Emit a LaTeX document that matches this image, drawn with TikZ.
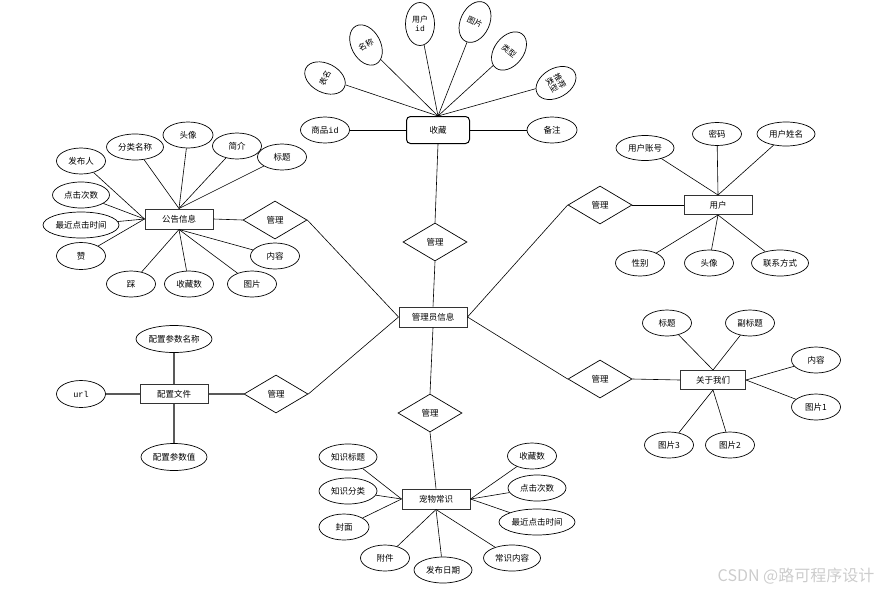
\documentclass[tikz,border=0pt]{standalone}
\usepackage{fontspec}
\setmainfont{Noto Sans CJK SC}
\newfontfamily\monofont{Liberation Mono}
\usetikzlibrary{shapes}
\tikzset{
  attr/.style={draw,ellipse,line width=0.7pt,inner sep=0pt,minimum width=49pt,minimum height=26pt,font=\fontsize{8.5}{9.5}\selectfont},
  tall/.style={attr,minimum width=29pt,minimum height=43pt,align=center,font=\fontsize{8}{9}\selectfont},
  ent/.style={draw=black!80,rectangle,line width=1pt,inner sep=0pt,minimum width=68pt,minimum height=20pt,font=\fontsize{8.5}{9.5}\selectfont},
  rel/.style={draw,diamond,line width=0.7pt,inner sep=0pt,minimum width=64pt,minimum height=38pt,font=\fontsize{8.5}{9.5}\selectfont},
  link/.style={line width=0.6pt},
  thick link/.style={line width=1.3pt,draw=black!65}
}

\begin{document}
\begin{tikzpicture}[x=1pt,y=-1pt]
\useasboundingbox (0,0) rectangle (882,592);
\node[ent,draw=black,rounded corners=4pt,minimum width=63pt,minimum height=27pt,name=sc] at (438,130) {收藏};
\node[attr,name=sc1] at (325,130) {商品{\monofont id}};
\node[attr,minimum width=50pt,name=sc2] at (552,130) {备注};
\node[tall,rotate=63,name=sc3] at (325,78) {表名};
\node[tall,rotate=28,name=sc4] at (366,45) {名称};
\node[tall,name=sc5] at (420,24) {用户\\{\monofont id}};
\node[tall,rotate=-25,name=sc6] at (475,22) {图片};
\node[tall,rotate=-38,name=sc7] at (509,51) {类型};
\node[tall,rotate=-60,name=sc8] at (556,83) {推荐\\类型};
\node[rel,name=d1] at (435,242) {管理};
\node[ent,name=gl] at (433,317) {管理员信息};
\node[ent,name=gg] at (179,219) {公告信息};
\node[rel,name=d2] at (275,220) {管理};
\node[attr,name=gg1] at (81,161) {发布人};
\node[attr,minimum width=57pt,name=gg2] at (81,195) {点击次数};
\node[attr,minimum width=76pt,name=gg3] at (81,225) {最近点击时间};
\node[attr,minimum height=27pt,name=gg4] at (81,256) {赞};
\node[attr,minimum width=57pt,name=gg5] at (135,147) {分类名称};
\node[attr,minimum width=50pt,name=gg6] at (188,135) {头像};
\node[attr,name=gg7] at (237,146) {简介};
\node[attr,name=gg8] at (282,157) {标题};
\node[attr,name=gg9] at (275,256) {内容};
\node[attr,name=gg10] at (131,284) {踩};
\node[attr,name=gg11] at (189,284) {收藏数};
\node[attr,name=gg12] at (252,284) {图片};
\node[ent,minimum height=19pt,name=pz] at (174,394) {配置文件};
\node[rel,name=d3] at (276,394) {管理};
\node[attr,minimum width=76pt,minimum height=27pt,name=pz1] at (174,339) {配置参数名称};
\node[attr,minimum height=27pt,name=pz2] at (81,394) {\monofont url};
\node[attr,minimum width=66pt,minimum height=27pt,name=pz3] at (174,457) {配置参数值};
\node[ent,name=cw] at (436,499) {宠物常识};
\node[rel,name=d4] at (430,413) {管理};
\node[attr,minimum width=58pt,name=cw1] at (348,457) {知识标题};
\node[attr,minimum width=58pt,name=cw2] at (348,491) {知识分类};
\node[attr,minimum width=50pt,name=cw3] at (344,527) {封面};
\node[attr,name=cw4] at (385,558) {附件};
\node[attr,minimum width=58pt,name=cw5] at (443,570) {发布日期};
\node[attr,minimum width=57pt,name=cw6] at (512,558) {常识内容};
\node[attr,name=cw7] at (532,456) {收藏数};
\node[attr,minimum width=58pt,name=cw8] at (537,488) {点击次数};
\node[attr,minimum width=76pt,name=cw9] at (537,522) {最近点击时间};
\node[ent,minimum height=19pt,name=yh] at (718,205) {用户};
\node[rel,name=d5] at (600,205) {管理};
\node[attr,minimum width=58pt,minimum height=25pt,name=yh1] at (645,148) {用户账号};
\node[attr,minimum height=23pt,name=yh2] at (717,134) {密码};
\node[attr,minimum width=58pt,minimum height=24pt,name=yh3] at (786,134) {用户姓名};
\node[attr,name=yh4] at (640,263) {性别};
\node[attr,name=yh5] at (709,263) {头像};
\node[attr,minimum width=57pt,name=yh6] at (780,263) {联系方式};
\node[ent,minimum width=65pt,minimum height=19pt,name=gy] at (713,380) {关于我们};
\node[rel,name=d6] at (600,379) {管理};
\node[attr,name=gy1] at (667,323) {标题};
\node[attr,name=gy2] at (750,323) {副标题};
\node[attr,name=gy3] at (816,360) {内容};
\node[attr,name=gy4] at (816,407) {图片1};
\node[attr,name=gy5] at (669,445) {图片3};
\node[attr,name=gy6] at (730,445) {图片2};
\node[text=black!20,font=\fontsize{16}{17}\selectfont,name=wm] at (796,576) {CSDN @路可程序设计};
\draw[link] (sc1) -- (sc.west);
\draw[link] (sc2) -- (sc.east);
\foreach \i in {3,...,8} \draw[link] (sc\i) -- (sc.north);
\draw[link] (sc.south) -- (d1.north);
\draw[link] (d1.south) -- (gl.north);
\draw[link] (gg.east) -- (d2.west);
\draw[link] (d2.east) -- (gl.west);
\foreach \i in {1,...,4} \draw[link] (gg\i) -- (gg.west);
\foreach \i in {5,...,8} \draw[link] (gg\i) -- (gg.north);
\foreach \i in {9,...,12} \draw[link] (gg\i) -- (gg.south);
\draw[thick link] (pz1) -- (pz.north);
\draw[thick link] (pz2) -- (pz.west);
\draw[thick link] (pz3) -- (pz.south);
\draw[thick link] (pz.east) -- (d3.west);
\draw[link] (d3.east) -- (gl.west);
\draw[link] (gl.south) -- (d4.north);
\draw[link] (d4.south) -- (cw.north);
\foreach \i in {1,2,3} \draw[link] (cw\i) -- (cw.west);
\foreach \i in {4,5,6} \draw[link] (cw\i) -- (cw.south);
\foreach \i in {7,8,9} \draw[link] (cw\i) -- (cw.east);
\draw[link] (gl.east) -- (d5.west);
\draw[link] (d5.east) -- (yh.west);
\foreach \i in {1,2,3} \draw[link] (yh\i) -- (yh.north);
\foreach \i in {4,5,6} \draw[link] (yh\i) -- (yh.south);
\draw[link] (gl.east) -- (d6.west);
\draw[link] (d6.east) -- (gy.west);
\foreach \i in {1,2} \draw[link] (gy\i) -- (gy.north);
\foreach \i in {3,4} \draw[link] (gy\i) -- (gy.east);
\foreach \i in {5,6} \draw[link] (gy\i) -- (gy.south);
\end{tikzpicture}
\end{document}
